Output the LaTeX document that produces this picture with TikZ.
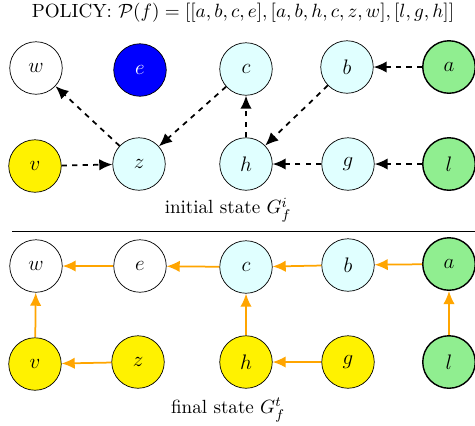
\documentclass[tikz,border=0pt]{standalone}
\usetikzlibrary{arrows.meta}
\definecolor{lcyan}{HTML}{E0FFFF}
\definecolor{lgreen}{HTML}{90EE90}
\definecolor{myorange}{HTML}{FFA500}
\begin{document}
\begin{tikzpicture}[x=0.5714pt,y=-0.5714pt,
  lbl/.style={font=\fontsize{10.9}{13}\selectfont},
  vert/.style={circle,draw,minimum size=30pt,inner sep=0pt,font=\fontsize{12.5}{14}\selectfont},
  plain/.style={vert,fill=white},
  cy/.style={vert,fill=lcyan},
  ye/.style={vert,fill=yellow},
  gr/.style={vert,fill=lgreen,line width=0.8pt},
  bl/.style={vert,fill=blue,text=white},
  dsh/.style={dashed,line width=1pt,-{Latex[length=7.5pt,width=6.5pt]}},
  org/.style={myorange,line width=1pt,-{Latex[length=7.5pt,width=6.5pt]}}]
\useasboundingbox (0,0) rectangle (475,425);
\node[lbl] (title) at (243,13) {POLICY: $\mathcal{P}(f)=[[a,b,c,e],[a,b,h,c,z,w],[l,g,h]]$};
% initial state
\node[plain] (w1) at (36,68) {$w$};
\node[bl] (e1) at (140,70) {$e$};
\node[cy] (c1) at (246,69) {$c$};
\node[cy] (b1) at (347,67) {$b$};
\node[gr] (a1) at (449,67) {$a$};
\node[ye] (v1) at (35,166) {$v$};
\node[cy] (z1) at (139,164) {$z$};
\node[cy] (h1) at (246,164) {$h$};
\node[cy] (g1) at (348,164) {$g$};
\node[gr] (l1) at (449,164) {$l$};
\node[lbl] (lab1) at (228,210) {initial state $G_f^i$};
\draw[dsh] (z1) -- (w1);
\draw[dsh] (c1) -- (z1);
\draw[dsh] (v1) -- (z1);
\draw[dsh] (h1) -- (c1);
\draw[dsh] (b1) -- (h1);
\draw[dsh] (a1) -- (b1);
\draw[dsh] (g1) -- (h1);
\draw[dsh] (l1) -- (g1);
\coordinate (s1) at (12,231);
\coordinate (s2) at (475,231);
\draw[line width=0.5pt] (s1) -- (s2);
% final state
\node[plain] (w2) at (36,266) {$w$};
\node[plain] (e2) at (140,266) {$e$};
\node[cy] (c2) at (246,267) {$c$};
\node[cy] (b2) at (348,265) {$b$};
\node[gr] (a2) at (449,264) {$a$};
\node[ye] (v2) at (35,364) {$v$};
\node[ye] (z2) at (138,362) {$z$};
\node[ye] (h2) at (246,362) {$h$};
\node[ye] (g2) at (348,362) {$g$};
\node[gr] (l2) at (449,362) {$l$};
\node[lbl] (lab2) at (228,410) {final state $G_f^t$};
\draw[org] (e2) -- (w2);
\draw[org] (c2) -- (e2);
\draw[org] (b2) -- (c2);
\draw[org] (a2) -- (b2);
\draw[org] (v2) -- (w2);
\draw[org] (z2) -- (v2);
\draw[org] (h2) -- (c2);
\draw[org] (g2) -- (h2);
\draw[org] (l2) -- (a2);
\end{tikzpicture}
\end{document}
